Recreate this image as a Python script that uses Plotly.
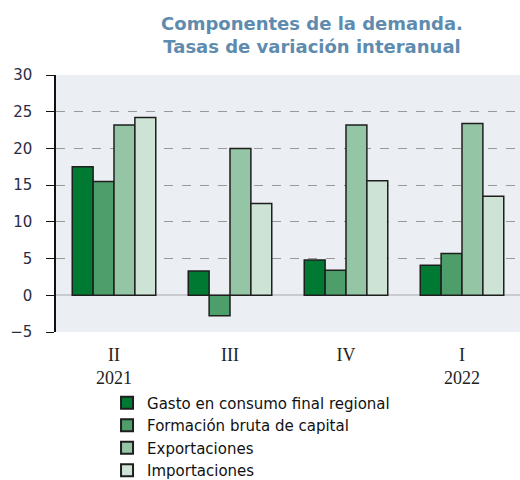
import plotly.graph_objects as go

categories = ["II<br>2021", "III", "IV", "I<br>2022"]
gasto = [17.5, 3.3, 4.8, 4.1]
formacion = [15.5, -2.8, 3.4, 5.7]
exportaciones = [23.2, 20.0, 23.2, 23.4]
importaciones = [24.2, 12.5, 15.6, 13.5]

series = [
    ("Gasto en consumo final regional", gasto, "#007A33"),
    ("Formación bruta de capital", formacion, "#4E9E6B"),
    ("Exportaciones", exportaciones, "#94C6A6"),
    ("Importaciones", importaciones, "#CCE3D5"),
]

fig = go.Figure()
for name, vals, col in series:
    fig.add_trace(go.Bar(
        x=categories, y=vals, name=name,
        marker=dict(color=col, line=dict(color="#1E1E1E", width=1.5)),
    ))

fig.update_layout(
    width=520, height=480,
    margin=dict(l=56, r=0, t=75, b=148, autoexpand=False),
    paper_bgcolor="white",
    plot_bgcolor="#EBEEF2",
    barmode="group",
    bargap=0.28,
    bargroupgap=0,
    title=dict(
        text="Componentes de la demanda.<br>Tasas de variación interanual",
        x=0.6, xanchor="center", yref="container", y=0.938, yanchor="middle",
        font=dict(family="DejaVu Sans", size=18, color="#5E8BAE", weight="bold"),
    ),
    legend=dict(
        orientation="v", x=0.11, xanchor="left",
        yref="container", y=0.195, yanchor="top",
        font=dict(family="DejaVu Sans", size=15, color="#111"),
        tracegroupgap=0, itemsizing="constant",
        bgcolor="rgba(0,0,0,0)",
    ),
    showlegend=True,
)

fig.update_yaxes(
    range=[-5, 30], dtick=5,
    showline=True, linecolor="#111", linewidth=1.5,
    ticks="outside", ticklen=8, tickcolor="#111",
    showgrid=True, gridcolor="#999999", griddash="dash", gridwidth=1,
    zeroline=True, zerolinecolor="#C8CCD0", zerolinewidth=2,
    tickfont=dict(family="DejaVu Sans", size=15, color="#2B2B45"),
    ticklabelstandoff=11,
)
fig.update_xaxes(
    showline=False, ticks="", showgrid=False,
    tickfont=dict(family="Liberation Serif", size=18, color="#222"),
    ticklabelstandoff=10,
)

fig.write_html("out.html", config={"displayModeBar": False},
               post_script="document.body.style.margin='0';")
